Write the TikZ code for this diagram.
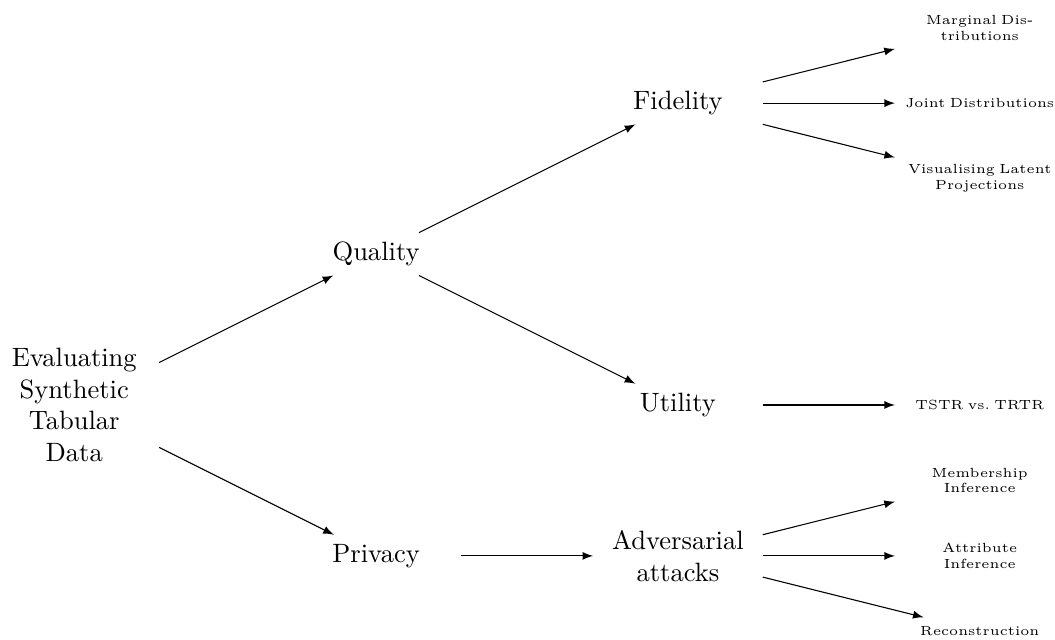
\documentclass[tikz,border=0pt]{standalone}
\usepackage{tikz}
\usetikzlibrary{positioning}
\usetikzlibrary{arrows}

\begin{document}
\begin{tikzpicture}[on grid]

\def\lvl{4cm}
\def\spreadA{2cm}
\def\spreadB{2cm}
\def\spreadC{1cm}

\tikzset{
mainbox/.style = {text width=2cm, align=center, font=\normalsize},
leafbox/.style = {text width=2cm, align=center, font=\tiny},
arr/.style = {-latex, line width=0.4pt}
}

\useasboundingbox (-28pt,-88.6pt) rectangle (369.8pt,152.7pt);

%\draw [help lines] grid (13,5);

\node[mainbox] (root) at (0,0) {Evaluating Synthetic Tabular Data};

\node[mainbox, above right=\spreadA and \lvl of root] (quality) {Quality};
\node[mainbox, below right=\spreadA and \lvl of root] (privacy) {Privacy};

\node[mainbox, above right=\spreadB and \lvl of quality] (fidelity) {Fidelity};
\node[mainbox, below right=\spreadB and \lvl of quality] (utility) {Utility};
\node[mainbox, right=\lvl of privacy] (adversarial) {Adversarial attacks};

\node[leafbox, above right=\spreadC and \lvl of fidelity] (marginal) {Marginal Dis-\\tributions};
\node[leafbox, right=\lvl of fidelity] (joint) {Joint Distributions};
\node[leafbox, below right=\spreadC and \lvl of fidelity] (latent) {Visualising Latent\\Projections};

\node[leafbox, right=\lvl of utility] (tstr) {TSTR vs.\ TRTR};

\node[leafbox, above right=\spreadC and \lvl of adversarial] (membership) {Membership\\Inference};
\node[leafbox, right=\lvl of adversarial] (attribute) {Attribute\\Inference};
\node[leafbox, below right=\spreadC and \lvl of adversarial] (reconstruction) {Reconstruction};

\draw[arr] (root) -- (quality);
\draw[arr] (root) -- (privacy);

\draw[arr] (quality) -- (fidelity);
\draw[arr] (quality) -- (utility);
\draw[arr] (privacy) -- (adversarial);

\draw[arr] (fidelity) -- (marginal);
\draw[arr] (fidelity) -- (joint);
\draw[arr] (fidelity) -- (latent);

\draw[arr] (utility) -- (tstr);

\draw[arr] (adversarial) -- (membership);
\draw[arr] (adversarial) -- (attribute);
\draw[arr] (adversarial) -- (reconstruction);

\end{tikzpicture}
\end{document}
